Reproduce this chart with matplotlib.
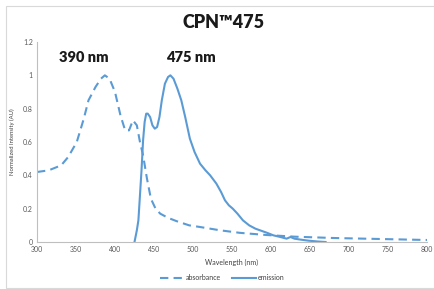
import matplotlib.pyplot as plt
from matplotlib.patches import Rectangle

plt.rcParams['font.family'] = ['Lato', 'DejaVu Sans']

# absorbance spectrum (dashed)
abs_wl = [300, 315, 331, 340, 351, 360, 366, 375, 382, 387, 393, 400, 407, 413, 418, 423, 428, 432, 436, 441, 446, 452, 458, 468, 479, 495, 509, 535, 560, 594, 630, 680, 740, 800]
abs_val = [0.42, 0.43, 0.46, 0.51, 0.60, 0.74, 0.85, 0.93, 0.98, 1.00, 0.98, 0.90, 0.76, 0.67, 0.67, 0.73, 0.70, 0.60, 0.52, 0.38, 0.26, 0.20, 0.17, 0.145, 0.125, 0.10, 0.09, 0.07, 0.055, 0.042, 0.032, 0.024, 0.018, 0.012]

# emission spectrum (solid)
em_wl = [425, 428, 430, 432, 434, 436, 438, 440, 442, 445, 448, 451, 454, 457, 460, 464, 468, 471, 475, 480, 485, 490, 496, 502, 509, 516, 522, 530, 536, 541, 546, 551, 557, 564, 572, 580, 586, 595, 603, 612, 620, 625, 630, 637, 648, 660, 670]
em_val = [0.0, 0.07, 0.13, 0.28, 0.43, 0.61, 0.72, 0.77, 0.77, 0.75, 0.70, 0.68, 0.69, 0.75, 0.85, 0.95, 0.99, 1.00, 0.98, 0.92, 0.85, 0.75, 0.62, 0.54, 0.47, 0.43, 0.40, 0.35, 0.30, 0.25, 0.22, 0.20, 0.17, 0.13, 0.10, 0.08, 0.07, 0.055, 0.04, 0.03, 0.02, 0.03, 0.02, 0.015, 0.008, 0.003, 0.0]

xticks = [300, 350, 400, 450, 500, 550, 600, 650, 700, 750, 800]
yticks = [0, 0.2, 0.4, 0.6, 0.8, 1, 1.2]
ytick_labels = ["0", "0.2", "0.4", "0.6", "0.8", "1", "1.2"]

blue = "#5b9bd5"
grey = "#bfbfbf"
txt = "#595959"

fig = plt.figure(figsize=(4.35, 2.89), dpi=100)
ax = fig.add_axes([37/435, 1-242/289, 390/435, 200/289])

fig.patches.append(Rectangle((6/435, 1/289), 1, 282/289, transform=fig.transFigure,
                             fill=False, edgecolor="#d9d9d9", linewidth=0.8))

ax.plot(abs_wl, abs_val, color=blue, lw=1.5, dashes=(4, 2.5), label="absorbance")
ax.plot(em_wl, em_val, color=blue, lw=1.5, label="emission")

ax.set_xlim(300, 800)
ax.set_ylim(0, 1.2)
ax.set_xticks(xticks)
ax.set_yticks(yticks)
ax.set_yticklabels(ytick_labels)
ax.tick_params(length=0, labelsize=5, colors=txt, pad=3)
for s in ["top", "right"]:
    ax.spines[s].set_visible(False)
for s in ["left", "bottom"]:
    ax.spines[s].set_color(grey)
    ax.spines[s].set_linewidth(0.8)

ax.set_xlabel("Wavelength (nm)", fontsize=5, color="#404040", labelpad=4)
ax.set_ylabel("Normalized Intensity (AU)", fontsize=4.2, color="#404040", labelpad=6)

fig.text(224/435, 1-22/289, "CPN™475", ha="center", va="center", fontsize=13, fontweight="heavy", color="#1a1a1a")
fig.text(84/435, 1-58/289, "390 nm", ha="center", va="center", fontsize=10.5, fontweight="heavy", color="#1a1a1a")
fig.text(191/435, 1-57/289, "475 nm", ha="center", va="center", fontsize=10.5, fontweight="heavy", color="#1a1a1a")

fig.legend(loc="center", bbox_to_anchor=(222/435, 1-278/289), ncol=2, frameon=False,
           fontsize=5, handlelength=3.5, columnspacing=1.6, handletextpad=0.2,
           labelcolor="#404040")

fig.savefig("out.png", dpi=100)
